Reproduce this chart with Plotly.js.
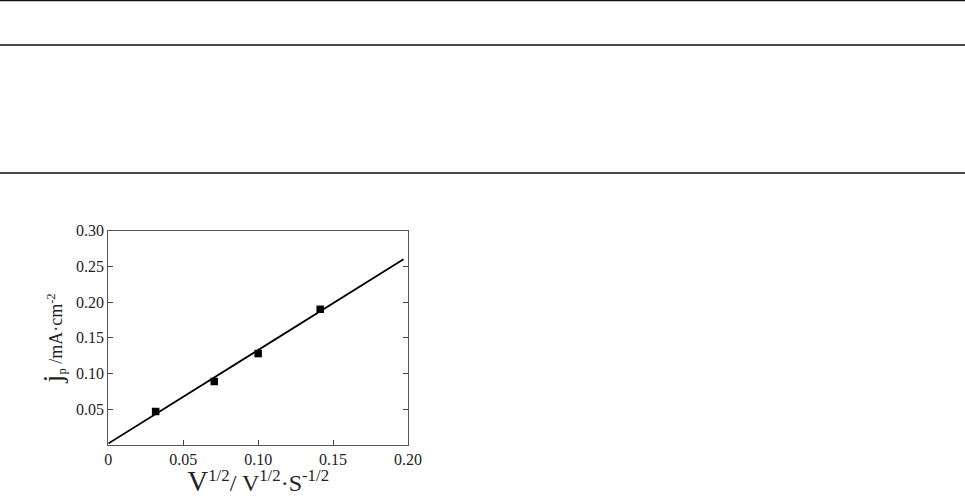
<!DOCTYPE html>
<html>
<head>
<meta charset="utf-8">
<script src="https://cdn.plot.ly/plotly-3.0.1.min.js"></script>
<style>html,body{margin:0;padding:0;background:#fff;}#chart{width:965px;height:497px;}</style>
</head>
<body>
<div id="chart"></div>
<script>
// Data
const scanRateSqrt = [0.0316, 0.0707, 0.100, 0.1414];
const peakCurrent = [0.047, 0.089, 0.128, 0.190];
const fitX = [0, 0.197];
const fitY = [0.002, 0.260];
const xTickVals = [0, 0.05, 0.10, 0.15, 0.20];
const xTickText = ["0", "0.05", "0.10", "0.15", "0.20"];
const yTickVals = [0.05, 0.10, 0.15, 0.20, 0.25, 0.30];
const yTickText = ["0.05", "0.10", "0.15", "0.20", "0.25", "0.30"];
const ruleY = [0.5, 45, 173]; // horizontal table rules (pixels from top)

const W = 965, H = 497;
const plotL = 108.3, plotR = 408, plotT = 230.7, plotB = 445;

const traces = [
  {x: fitX, y: fitY, mode: 'lines', line: {color: '#000', width: 1.8}, hoverinfo: 'skip'},
  {x: scanRateSqrt, y: peakCurrent, mode: 'markers',
   marker: {symbol: 'square', size: 7.5, color: '#000'}}
];

const shapes = ruleY.map(py => ({
  type: 'line', xref: 'paper', yref: 'paper',
  x0: 0, x1: 1, y0: 1 - py / H, y1: 1 - py / H,
  line: {color: '#111', width: 1.3}
}));

const font = {family: '"Liberation Serif", "Times New Roman", serif', color: '#222'};

const layout = {
  width: W, height: H,
  margin: {l: 0, r: 0, t: 0, b: 0},
  paper_bgcolor: '#fff', plot_bgcolor: '#fff',
  showlegend: false,
  font: Object.assign({size: 14}, font),
  shapes: shapes,
  xaxis: {
    domain: [plotL / W, plotR / W],
    range: [0, 0.20], fixedrange: true,
    tickvals: xTickVals, ticktext: xTickText,
    ticks: 'inside', ticklen: 5, tickcolor: '#444',
    showline: true, linecolor: '#555', linewidth: 1, mirror: true,
    showgrid: false, zeroline: false,
    tickfont: Object.assign({size: 16}, font),
    title: {text: '<span style="font-size:29px">V</span><sup>1/2</sup>/ V<sup>1/2</sup>·S<sup>-1/2</sup>',
            font: Object.assign({size: 24}, font), standoff: 4}
  },
  yaxis: {
    domain: [1 - plotB / H, 1 - plotT / H],
    range: [0, 0.30], fixedrange: true,
    tickvals: yTickVals, ticktext: yTickText,
    ticks: 'inside', ticklen: 5, tickcolor: '#444',
    showline: true, linecolor: '#555', linewidth: 1, mirror: 'ticks',
    showgrid: false, zeroline: false,
    tickfont: Object.assign({size: 16}, font),
    title: {text: '<span style="font-size:28px">j</span><sub>p</sub> /mA·cm<sup>-2</sup>',
            font: Object.assign({size: 18}, font), standoff: 8}
  }
};

Plotly.newPlot('chart', traces, layout, {staticPlot: true, displayModeBar: false});
</script>
</body>
</html>
